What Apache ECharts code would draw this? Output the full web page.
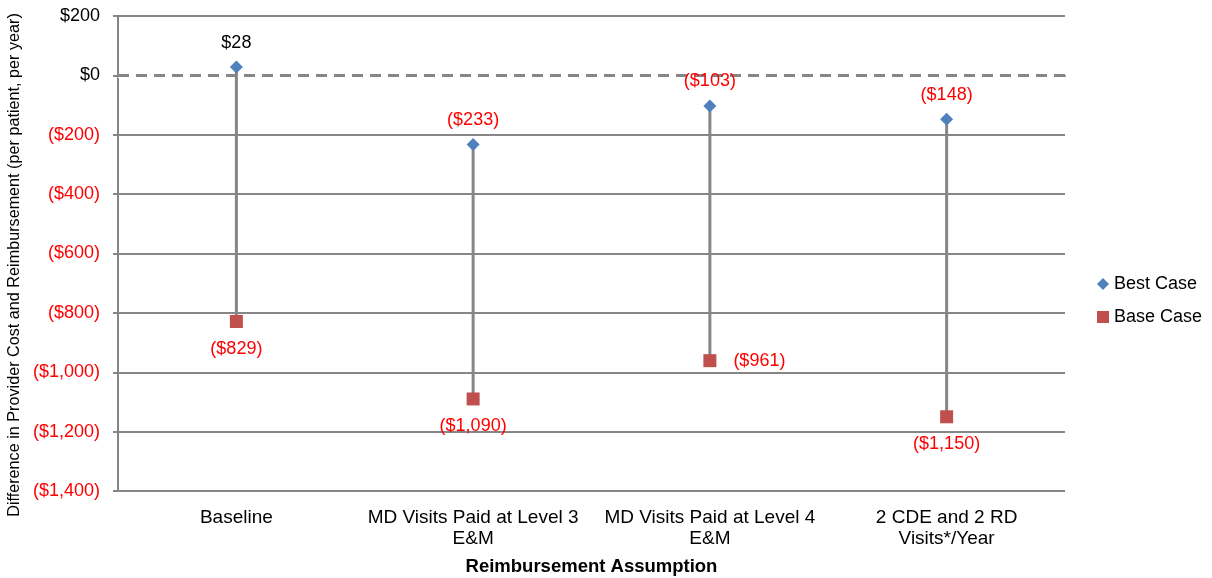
<!DOCTYPE html>
<html><head><meta charset="utf-8">
<script src="https://cdn.jsdelivr.net/npm/echarts@6/dist/echarts.min.js"></script>
<style>html,body{margin:0;padding:0;background:#fff}#c{width:1212px;height:578px}</style>
</head><body><div id="c"></div>
<script>
const categories = ['Baseline', 'MD Visits Paid at Level 3\nE&M', 'MD Visits Paid at Level 4\nE&M', '2 CDE and 2 RD\nVisits*/Year'];
const bestCase = [28, -233, -103, -148];
const baseCase = [-829, -1090, -961, -1150];
const baseLabelPos = ['bottom', 'bottom', 'right', 'bottom'];
const yTitle = 'Difference in Provider Cost and Reimbursement (per patient, per year)';
const xTitle = 'Reimbursement Assumption';

function money(v) {
  const s = '$' + Math.abs(v).toLocaleString('en-US');
  return v < 0 ? '(' + s + ')' : s;
}
const FONT = 'Liberation Sans, Arial, sans-serif';
const chart = echarts.init(document.getElementById('c'));
const GRAY = '#868686';
chart.setOption({
  animation: false,
  textStyle: { fontFamily: FONT },
  grid: { left: 118, right: 147, top: 16, bottom: 87, containLabel: false, outerBoundsMode: 'none' },
  graphic: [{
    type: 'text', x: 15, y: 265, rotation: Math.PI / 2,
    style: { text: yTitle, fontSize: 16.2, fill: '#000', fontFamily: FONT, align: 'center', verticalAlign: 'middle' }
  }],
  legend: {
    orient: 'vertical', left: 1092, top: 270, itemGap: 15,
    itemWidth: 12, itemHeight: 12,
    textStyle: { fontSize: 18, color: '#000', fontFamily: FONT },
    data: [{ name: 'Best Case', icon: 'diamond' }, { name: 'Base Case', icon: 'rect' }]
  },
  xAxis: {
    type: 'category', data: categories,
    name: xTitle, nameLocation: 'middle', nameGap: 66,
    nameTextStyle: { fontSize: 18.5, fontWeight: 'bold', color: '#000', fontFamily: FONT },
    axisLine: { show: true, lineStyle: { color: GRAY, width: 2 } },
    axisTick: { show: false },
    axisLabel: { fontSize: 19, color: '#000', lineHeight: 21, margin: 16.5, interval: 0, fontFamily: FONT }
  },
  yAxis: {
    type: 'value', min: -1400, max: 200, interval: 200,
    axisLine: { show: true, lineStyle: { color: GRAY, width: 2 } },
    axisTick: { show: true, length: 5, lineStyle: { color: GRAY, width: 2 } },
    splitLine: { show: true, lineStyle: { color: GRAY, width: 2 } },
    axisLabel: {
      fontSize: 18, margin: 18,
      formatter: v => v < 0 ? '{n|' + money(v) + '}' : '{p|' + money(v) + '}',
      rich: { n: { color: '#FF0000', fontSize: 18 }, p: { color: '#000', fontSize: 18 } }
    }
  },
  series: [
    {
      type: 'line', name: 'zero', silent: true, z: 1, data: [],
      markLine: {
        silent: true, symbol: 'none', label: { show: false }, z: 1,
        data: [
          { yAxis: 0, lineStyle: { color: '#FFFFFF', type: 'solid', width: 4, opacity: 1 } },
          { yAxis: 0, lineStyle: { color: GRAY, type: [11, 7], width: 3, opacity: 1 } }
        ]
      }
    },
    {
      type: 'custom', name: 'range', silent: true, z: 2,
      data: categories.map((c, i) => [i, bestCase[i], baseCase[i]]),
      encode: { x: 0, y: [1, 2] },
      renderItem: (params, api) => {
        const a = api.coord([api.value(0), api.value(1)]);
        const b = api.coord([api.value(0), api.value(2)]);
        return { type: 'line', shape: { x1: a[0], y1: a[1], x2: b[0], y2: b[1] },
          style: { stroke: GRAY, lineWidth: 3 } };
      }
    },
    {
      type: 'scatter', name: 'Best Case', symbol: 'diamond', symbolSize: 13, z: 3,
      itemStyle: { color: '#4F81BD', opacity: 1 },
      data: bestCase.map((v, i) => ({
        value: v,
        label: { show: true, position: 'top', distance: 9, formatter: money(v),
          color: v < 0 ? '#FF0000' : '#000', fontSize: 18 }
      }))
    },
    {
      type: 'scatter', name: 'Base Case', symbol: 'rect', symbolSize: 13, z: 3,
      itemStyle: { color: '#C0504D', opacity: 1 },
      data: baseCase.map((v, i) => ({
        value: v,
        label: { show: true, position: baseLabelPos[i], distance: baseLabelPos[i] === 'right' ? 17 : 12,
          formatter: money(v), color: '#FF0000', fontSize: 18 }
      }))
    }
  ]
});
</script></body></html>
